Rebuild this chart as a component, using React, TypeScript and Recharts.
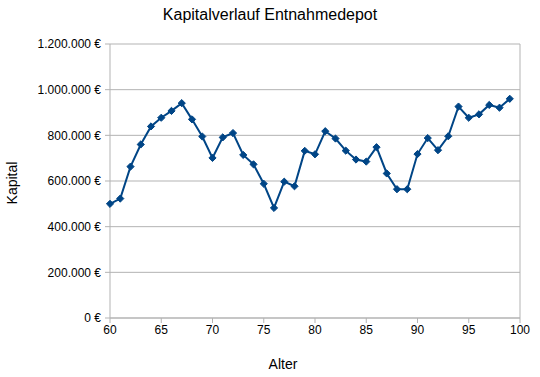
import React from "react";
import { LineChart, Line, XAxis, YAxis, CartesianGrid, ReferenceLine } from "recharts";

const ages = [60, 61, 62, 63, 64, 65, 66, 67, 68, 69, 70, 71, 72, 73, 74, 75, 76, 77, 78, 79, 80, 81, 82, 83, 84, 85, 86, 87, 88, 89, 90, 91, 92, 93, 94, 95, 96, 97, 98, 99];
const kapital = [500000, 523000, 663000, 760000, 839000, 877000, 907000, 941000, 870000, 795000, 701000, 791000, 810000, 714000, 673000, 588000, 482000, 597000, 577000, 732000, 717000, 818000, 786000, 733000, 694000, 685000, 748000, 633000, 564000, 564000, 718000, 788000, 735000, 796000, 926000, 877000, 892000, 933000, 921000, 960000];
const xTicks = [60, 65, 70, 75, 80, 85, 90, 95, 100];
const yTicks = [0, 200000, 400000, 600000, 800000, 1000000, 1200000];

const data = ages.map((a, i) => ({ age: a, kapital: kapital[i] }));

const fmt = (v: number) => String(v).replace(/\B(?=(\d{3})+(?!\d))/g, ".") + " €";

const Diamond = (props: any) => {
  const { cx, cy } = props;
  if (cx == null || cy == null) return null;
  const r = 3.6;
  return (
    <polygon
      points={`${cx},${cy - r} ${cx + r},${cy} ${cx},${cy + r} ${cx - r},${cy}`}
      fill="#004586"
      stroke="#004586"
      strokeWidth={1}
    />
  );
};

const font = "'Liberation Sans', Arial, sans-serif";

export default function App() {
  return (
    <div style={{ position: "absolute", left: 0, top: 0, width: 540, height: 377, background: "#fff", fontFamily: font }}>
      <div style={{ position: "absolute", left: 0, width: 540, top: 6, textAlign: "center", fontSize: 16, color: "#000" }}>
        Kapitalverlauf Entnahmedepot
      </div>
      <div style={{ position: "absolute", left: 12, top: 183, transform: "translate(-50%, -50%) rotate(-90deg)", fontSize: 14, color: "#000", whiteSpace: "nowrap" }}>
        Kapital
      </div>
      <div style={{ position: "absolute", left: 283, top: 364, transform: "translate(-50%, -50%)", fontSize: 14, color: "#000" }}>
        Alter
      </div>
      <div style={{ position: "absolute", left: 0, top: 0 }}>
        <LineChart width={540} height={377} data={data} margin={{ top: 44, right: 20, bottom: 29, left: 0 }}>
          <CartesianGrid horizontal={true} vertical={false} stroke="#b3b3b3" />
          <XAxis
            dataKey="age"
            type="number"
            domain={[60, 100]}
            ticks={xTicks}
            interval={0}
            height={30}
            stroke="#b3b3b3"
            tickSize={5}
            tick={{ fill: "#000", fontSize: 12, fontFamily: font }}
            tickMargin={2}
          />
          <YAxis
            type="number"
            domain={[0, 1200000]}
            ticks={yTicks}
            interval={0}
            width={110}
            stroke="#b3b3b3"
            tickSize={5}
            tickMargin={4}
            tickFormatter={fmt}
            tick={{ fill: "#000", fontSize: 12, fontFamily: font }}
          />
          <ReferenceLine x={100} stroke="#b3b3b3" />
          <Line
            type="linear"
            dataKey="kapital"
            stroke="#004586"
            strokeWidth={2}
            dot={<Diamond />}
            activeDot={false}
            isAnimationActive={false}
          />
        </LineChart>
      </div>
    </div>
  );
}
